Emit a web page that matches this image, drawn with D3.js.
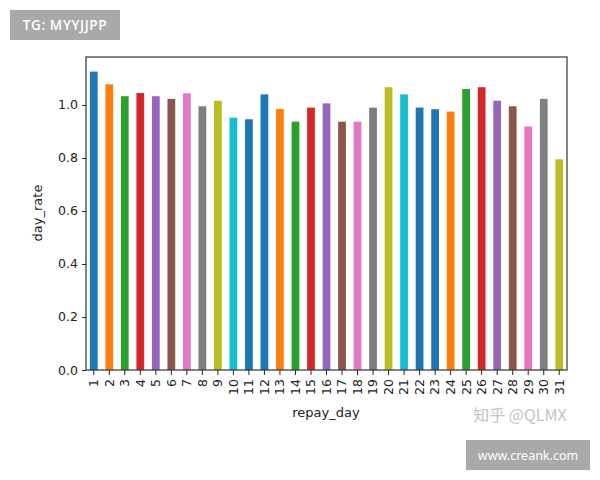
<!DOCTYPE html>
<html><head><meta charset="utf-8">
<script src="https://cdn.jsdelivr.net/npm/d3@7"></script>
<style>body{margin:0;background:#fff}svg{display:block}</style>
</head><body>
<svg id="c" width="600" height="480"></svg>
<script>
const days = d3.range(1, 32).map(String);
const dayRate = [1.126,1.078,1.033,1.045,1.033,1.023,1.044,0.995,1.016,0.952,
  0.946,1.040,0.985,0.937,0.990,1.006,0.937,0.937,0.990,1.067,
  1.040,0.990,0.984,0.975,1.060,1.067,1.016,0.995,0.919,1.023,0.795];
const palette = ["#1f77b4","#ff7f0e","#2ca02c","#d62728","#9467bd","#8c564b","#e377c2","#7f7f7f","#bcbd22","#17becf","#1f77b4"];
const yTicks = [0,0.2,0.4,0.6,0.8,1.0];

const svg = d3.select("#c");
const L=86, R=567, T=57, B=370;
const font = "DejaVu Sans, sans-serif";
const x = d3.scaleBand().domain(days).range([L,R]).paddingInner(0.5).paddingOuter(0.25);
const y = d3.scaleLinear().domain([0,1.181]).range([B,T]);

svg.append("g").selectAll("rect").data(dayRate).join("rect")
  .attr("x",(d,i)=>x(days[i])).attr("width",x.bandwidth())
  .attr("y",d=>y(d)).attr("height",d=>y(0)-y(d))
  .attr("fill",(d,i)=>palette[i%palette.length]);

const ya = svg.append("g").attr("transform",`translate(${L},0)`)
  .call(d3.axisLeft(y).tickValues(yTicks).tickFormat(d3.format(".1f")).tickSize(4).tickPadding(4));
ya.select(".domain").remove();
ya.selectAll("text").attr("font-family",font).attr("font-size",12.5).attr("fill","#222");
ya.selectAll("line").attr("stroke","#222");

const xa = svg.append("g").attr("transform",`translate(0,${B})`)
  .call(d3.axisBottom(x).tickSize(5).tickPadding(3));
xa.select(".domain").remove();
xa.selectAll("line").attr("stroke","#222");
xa.selectAll("text").attr("font-family",font).attr("font-size",12.5).attr("fill","#222")
  .attr("transform","rotate(-90)").attr("text-anchor","end").attr("x",-9).attr("y",0).attr("dy","0.35em");

svg.append("rect").attr("x",L).attr("y",T).attr("width",R-L).attr("height",B-T)
  .attr("fill","none").attr("stroke","#333").attr("stroke-width",1.2);

svg.append("text").attr("x",326).attr("y",417).attr("text-anchor","middle")
  .attr("font-family",font).attr("font-size",13).attr("fill","#222").text("repay_day");
svg.append("text").attr("transform","translate(42,213) rotate(-90)").attr("text-anchor","middle")
  .attr("font-family",font).attr("font-size",13).attr("fill","#222").text("day_rate");

// watermarks
svg.append("rect").attr("x",10).attr("y",10).attr("width",110).attr("height",30).attr("fill","#a9a9a9");
svg.append("text").attr("x",65).attr("y",30).attr("text-anchor","middle")
  .attr("font-family","Open Sans, sans-serif").attr("font-weight",600).attr("font-size",13.5)
  .attr("letter-spacing",0.6).attr("fill","#fff").text("TG: MYYJJPP");
svg.append("rect").attr("x",466).attr("y",440).attr("width",124).attr("height",30).attr("fill","#a9a9a9");
svg.append("text").attr("x",528).attr("y",460).attr("text-anchor","middle")
  .attr("font-family","Noto Sans, sans-serif").attr("font-size",12.5).attr("fill","#fff").text("www.creank.com");
svg.append("text").attr("x",520).attr("y",421).attr("text-anchor","middle")
  .attr("font-family","Noto Sans CJK SC, sans-serif").attr("font-size",16).attr("fill","#c4c4c4").text("知乎 @QLMX");
</script>
</body></html>
